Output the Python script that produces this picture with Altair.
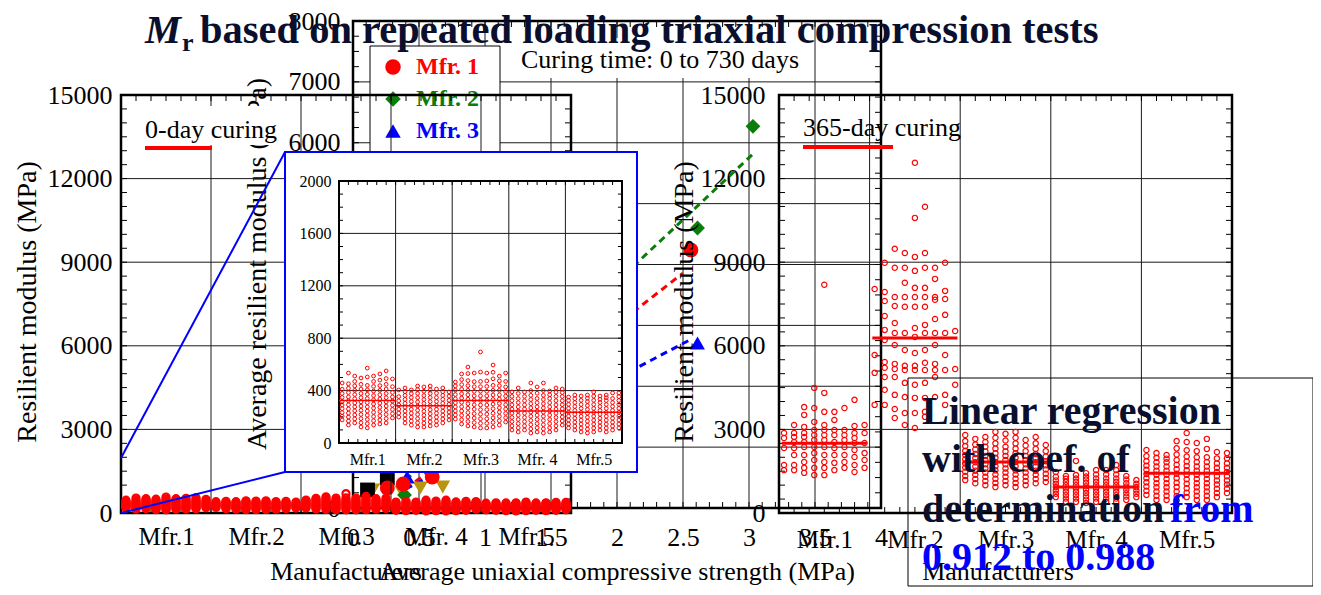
import altair as alt
import pandas as pd

# ---------------- data ----------------
mfr_labels = ["Mfr.1", "Mfr.2", "Mfr.3", "Mfr. 4", "Mfr.5"]
legend_labels = ["Mfr. 1", "Mfr. 2", "Mfr. 3", "Mfr. 4", "Mfr. 5"]
mfr_colors = ["#ff0000", "#0a7d0a", "#0000ff", "#000000", "#b8960c"]
mfr_shapes = ["circle", "diamond", "triangle-up", "square", "triangle-down"]

# 0-day curing resilient modulus (MPa), one list per specimen column
day0_mfr1 = [
    [176, 205, 232, 262, 290, 318, 348, 378, 410, 458],
    [137, 168, 198, 228, 260, 292, 322, 352, 385, 418, 452, 534],
    [153, 184, 214, 246, 276, 306, 338, 370, 402, 436, 470, 511],
    [122, 154, 186, 218, 250, 282, 314, 346, 378, 412, 448, 496],
    [115, 148, 180, 212, 244, 276, 308, 340, 372, 406, 440, 504, 572],
    [137, 170, 202, 234, 266, 298, 330, 362, 396, 432, 470, 511],
    [145, 176, 208, 240, 272, 304, 336, 368, 402, 438, 480, 527],
    [153, 186, 218, 250, 282, 314, 346, 378, 412, 448, 492, 550],
    [191, 224, 256, 288, 320, 352, 386, 430, 489],
]
day0_mfr2 = [
    [198, 228, 258, 290, 322, 354, 405],
    [153, 183, 213, 243, 273, 303, 333, 363, 392, 420],
    [137, 167, 197, 227, 257, 287, 317, 347, 377, 405],
    [122, 154, 186, 218, 250, 282, 314, 346, 378, 408, 435],
    [122, 152, 182, 212, 242, 272, 302, 332, 362, 395, 428],
    [130, 161, 192, 223, 254, 285, 316, 347, 378, 406, 435],
    [137, 167, 197, 227, 257, 287, 317, 347, 380, 412],
    [153, 183, 213, 243, 273, 303, 333, 363, 392, 420],
    [176, 206, 236, 266, 296, 326, 358, 390],
]
day0_mfr3 = [
    [183, 214, 245, 276, 307, 338, 370, 404, 436, 466],
    [145, 178, 211, 244, 277, 310, 343, 376, 410, 446, 484, 527],
    [130, 164, 198, 232, 266, 300, 334, 368, 402, 438, 476, 530, 580],
    [122, 156, 190, 224, 258, 292, 326, 360, 394, 430, 468, 534],
    [115, 150, 185, 220, 255, 290, 325, 360, 395, 430, 470, 542, 695],
    [115, 150, 185, 220, 255, 290, 325, 360, 395, 432, 474, 534],
    [122, 157, 192, 227, 262, 297, 332, 367, 402, 440, 490, 540, 595],
    [137, 170, 203, 236, 269, 302, 335, 368, 402, 438, 474, 511],
    [160, 193, 226, 259, 292, 325, 358, 392, 428, 470, 534],
]
day0_mfr4 = [
    [99, 131, 163, 195, 227, 259, 291, 323, 356, 390],
    [84, 116, 148, 180, 212, 244, 276, 308, 340, 378, 420],
    [99, 131, 163, 195, 227, 259, 291, 323, 356, 390],
    [76, 108, 140, 172, 204, 236, 268, 300, 332, 364, 400, 458],
    [84, 116, 148, 180, 212, 244, 276, 308, 340, 380, 428],
    [76, 108, 140, 172, 204, 236, 268, 300, 332, 364, 400, 458],
    [84, 116, 148, 180, 212, 244, 276, 308, 340, 368, 397],
    [99, 131, 163, 195, 227, 259, 291, 323, 356, 388, 420],
    [137, 168, 199, 230, 261, 292, 323, 355, 385, 412],
]
day0_mfr5 = [
    [115, 145, 175, 205, 235, 265, 295, 325, 351],
    [99, 129, 159, 189, 219, 249, 279, 309, 338, 366],
    [84, 114, 144, 174, 204, 234, 264, 294, 326, 359],
    [76, 106, 136, 166, 196, 226, 256, 286, 316, 342, 366],
    [84, 114, 144, 174, 204, 234, 264, 294, 326, 358, 390],
    [99, 129, 159, 189, 219, 249, 279, 309, 334, 359],
    [84, 114, 144, 174, 204, 234, 264, 294, 324, 346, 366],
    [99, 129, 159, 189, 219, 249, 279, 309, 340, 382],
    [115, 145, 175, 205, 235, 265, 295, 325, 354, 382],
]
day0_mean = [325, 285, 325, 245, 235]

# 365-day curing resilient modulus (MPa)
day365_mfr1 = [
    [1540, 1720, 2330, 2690, 2870],
    [1540, 1720, 2080, 2330, 2550, 2730, 2870, 3160],
    [1440, 1620, 1830, 2080, 2370, 2550, 2730, 2870, 3090, 3520, 3800],
    [1360, 1620, 1900, 2150, 2370, 2620, 2800, 2980, 3270, 3770, 4490],
    [1360, 1620, 1830, 2080, 2370, 2620, 2800, 2980, 3160, 3630, 4310, 8190],
    [1540, 1800, 2080, 2330, 2550, 2800, 2980, 3340, 3630],
    [1620, 1830, 2080, 2370, 2620, 2800, 2980, 3770],
    [1470, 1720, 2010, 2260, 2510, 2690, 2870, 3120, 4060],
    [1620, 1900, 2150, 2510, 2870, 3160],
]
day365_mfr2 = [
    [3880, 5030, 5670, 8040],
    [3880, 4420, 4880, 5210, 5420, 6210, 6570, 7070, 7610, 7930, 8980],
    [3410, 3730, 4240, 4880, 5170, 5350, 6030, 6460, 6820, 7430, 7750, 8800, 9480],
    [3160, 3590, 4160, 4670, 5130, 5280, 5850, 6460, 7400, 7750, 8260, 8800, 9330],
    [3050, 3590, 4130, 4600, 5130, 5280, 5740, 6320, 6640, 7400, 7750, 8080, 8690, 9190, 10590, 12570],
    [3450, 3630, 4130, 4670, 5130, 5390, 5850, 6460, 6750, 7400, 7750, 8080, 8800, 9330, 10990],
    [4160, 4880, 5130, 5350, 6030, 6460, 6960, 7650, 7750, 8400, 8800],
    [3880, 4240, 5130, 5670, 6460, 7110, 7680, 7970, 8980],
    [4600, 5170, 6530],
]
day365_mfr3 = [
    [1180, 1330, 1480, 1630, 1780, 1930, 2080, 2230, 2400, 2580, 2800],
    [1070, 1220, 1370, 1520, 1670, 1820, 1970, 2120, 2280, 2460, 2660],
    [1000, 1150, 1300, 1450, 1600, 1750, 1900, 2050, 2210, 2380, 2550, 2730],
    [930, 1080, 1230, 1380, 1530, 1680, 1830, 1980, 2140, 2310, 2500, 2700, 2910],
    [1000, 1150, 1300, 1450, 1600, 1750, 1900, 2050, 2210, 2380, 2600, 2840],
    [930, 1080, 1230, 1380, 1530, 1680, 1830, 1980, 2140, 2310, 2500, 2700, 2910],
    [1000, 1150, 1300, 1450, 1600, 1750, 1900, 2050, 2220, 2420, 2620],
    [1070, 1220, 1370, 1520, 1670, 1820, 1970, 2120, 2300, 2500, 2730],
    [1110, 1260, 1410, 1560, 1710, 1860, 2030, 2220, 2440],
]
day365_mfr4 = [
    [570, 690, 810, 930, 1050, 1170, 1300, 1470],
    [400, 520, 640, 760, 880, 1000, 1120, 1230, 1330],
    [400, 520, 640, 760, 880, 1000, 1120, 1240, 1360, 1870],
    [360, 480, 600, 720, 840, 960, 1080, 1200, 1310, 1430],
    [400, 520, 640, 760, 880, 1000, 1120, 1240, 1380, 1540],
    [400, 520, 640, 760, 880, 1000, 1120, 1240, 1380, 1540],
    [400, 520, 640, 760, 880, 1000, 1120, 1240, 1380, 1540, 1720],
    [470, 590, 710, 830, 950, 1070, 1200, 1330],
    [570, 690, 810, 930, 1050, 1180],
]
day365_mfr5 = [
    [650, 800, 950, 1100, 1250, 1400, 1550, 1700, 1860, 2040, 2260],
    [470, 620, 770, 920, 1070, 1220, 1370, 1520, 1670, 1820, 1980, 2150],
    [470, 620, 770, 920, 1070, 1220, 1370, 1520, 1670, 1820, 1950, 2080],
    [290, 450, 610, 770, 930, 1090, 1250, 1410, 1570, 1730, 1900, 2100, 2320, 2580],
    [570, 730, 890, 1050, 1210, 1370, 1530, 1690, 1850, 2030, 2250, 2550, 2870],
    [470, 620, 770, 920, 1070, 1220, 1370, 1520, 1670, 1830, 2000, 2220, 2510],
    [470, 620, 770, 920, 1070, 1220, 1370, 1520, 1670, 1830, 2000, 2300, 2660],
    [570, 720, 870, 1020, 1170, 1320, 1470, 1620, 1780, 1960, 2190],
    [720, 870, 1020, 1170, 1320, 1470, 1620, 1780, 1960, 2150],
]
day365_mean = [2500, 6280, 1830, 930, 1430]

# Average UCS (MPa) vs average resilient modulus (MPa), curing 0-730 days
ucs_mfr1 = [0.26, 0.38, 0.60, 2.56]
avg_mr_mfr1 = [328, 394, 509, 4240]
ucs_mfr2 = [0.39, 2.61, 3.03]
avg_mr_mfr2 = [213, 4600, 6270]
ucs_mfr3 = [0.41, 2.61]
avg_mr_mfr3 = [509, 2710]
ucs_mfr4 = [0.11, 0.26]
avg_mr_mfr4 = [296, 493]
ucs_mfr5 = [0.15, 0.37, 0.51, 0.68]
avg_mr_mfr5 = [296, 263, 328, 345]

# linear regressions (Mfr.1, Mfr.2, Mfr.3)
reg_slope = [1690, 2037, 1138]
reg_intercept = [-366, -356, -143]
reg_x_start = [0.4, 0.4, 0.4]
reg_x_end = [2.5, 3.03, 2.55]

# tick labels
yticks_full = [0, 3000, 6000, 9000, 12000, 15000]
yticks_avg = [0, 1000, 2000, 3000, 4000, 5000, 6000, 7000, 8000]
xticks_ucs = [0, 0.5, 1, 1.5, 2, 2.5, 3, 3.5, 4]
yticks_inset = [0, 400, 800, 1200, 1600, 2000]
cat_ticks = [0.5, 1.5, 2.5, 3.5, 4.5]

# ---------------- layout helpers ----------------
OFF = 8
W, H = 1321 - 2 * OFF, 595 - 2 * OFF
FONT = "Liberation Serif"
NAVY = "#0b0f2e"
one = pd.DataFrame({"k": [0]})


def pv(v):
    return v - OFF


PA = {"xd": [0, 5], "xr": [121, 571], "yd": [0, 15000], "yr": [513, 95]}
PB = {"xd": [0, 4], "xr": [353, 881], "yd": [0, 8000], "yr": [508, 21]}
PI = {"xd": [0, 5], "xr": [339, 622], "yd": [0, 2000], "yr": [443, 181]}
PC = {"xd": [0, 5], "xr": [779, 1232], "yd": [0, 15000], "yr": [513, 95]}


def sx(p):
    return alt.Scale(domain=p["xd"], range=[pv(p["xr"][0]), pv(p["xr"][1])], nice=False, zero=False)


def sy(p):
    return alt.Scale(domain=p["yd"], range=[pv(p["yr"][0]), pv(p["yr"][1])], nice=False, zero=False)


def X(p, f, axis=None):
    return alt.X(f"{f}:Q", scale=sx(p), axis=axis)


def Y(p, f, axis=None):
    return alt.Y(f"{f}:Q", scale=sy(p), axis=axis)


cat_expr = "[" + ",".join(f"'{s}'" for s in mfr_labels) + "][round(datum.value - 0.5)]"


def yaxis(p, values, size, pad, z=0):
    return alt.Axis(values=values, orient="left", offset=-pv(p["xr"][0]), format="d",
                    grid=False, ticks=False, domain=False, labelFont=FONT,
                    labelFontSize=size, labelColor="black", labelPadding=pad,
                    title=None, labelFlush=False, labelOverlap=False, zindex=z)


def xaxis(p, values, size, pad, expr=None, fmt="~g", z=0):
    kw = dict(values=values, orient="bottom", offset=pv(p["yr"][0]) - H,
              grid=False, ticks=False, domain=False, labelFont=FONT,
              labelFontSize=size, labelColor="black", labelPadding=pad,
              title=None, labelFlush=False, labelOverlap=False, zindex=z)
    if expr:
        kw["labelExpr"] = expr
    else:
        kw["format"] = fmt
    return alt.Axis(**kw)


def grid(p, xv, yv, color="#1a1a1a", w=1):
    dx = pd.DataFrame({"v": xv, "a": p["yd"][0], "b": p["yd"][1]})
    dy = pd.DataFrame({"v": yv, "a": p["xd"][0], "b": p["xd"][1]})
    gx = alt.Chart(dx).mark_rule(color=color, strokeWidth=w).encode(
        x=X(p, "v"), y=Y(p, "a"), y2="b:Q")
    gy = alt.Chart(dy).mark_rule(color=color, strokeWidth=w).encode(
        y=Y(p, "v"), x=X(p, "a"), x2="b:Q")
    return [gx, gy]


def frame(p, xa, ya, sw):
    d = pd.DataFrame({"x0": [p["xd"][0]], "x1": [p["xd"][1]], "y0": [p["yd"][0]], "y1": [p["yd"][1]]})
    return alt.Chart(d).mark_rect(fillOpacity=0, stroke="black", strokeWidth=sw).encode(
        x=X(p, "x0", xa), x2="x1:Q", y=Y(p, "y0", ya), y2="y1:Q")


def ticks(p, xminor, yminor, ln=6):
    out = []
    for e, off in [(p["xd"][0], ln), (p["xd"][1], -ln)]:
        d = pd.DataFrame({"v": yminor, "e": e})
        out.append(alt.Chart(d).mark_rule(color="black", strokeWidth=1, x2Offset=off).encode(
            x=X(p, "e"), x2="e:Q", y=Y(p, "v"), y2="v:Q"))
    for e, off in [(p["yd"][0], -ln), (p["yd"][1], ln)]:
        d = pd.DataFrame({"v": xminor, "e": e})
        out.append(alt.Chart(d).mark_rule(color="black", strokeWidth=1, y2Offset=off).encode(
            x=X(p, "v"), x2="v:Q", y=Y(p, "e"), y2="e:Q"))
    return out


def cloud_df(groups):
    rows = []
    for i, cols in enumerate(groups):
        n = len(cols)
        for j, col in enumerate(cols):
            for val in col:
                rows.append({"pos": i + (j + 0.5) / n, "mr": float(val)})
    return pd.DataFrame(rows)


def mean_df(means, inset=0.0):
    return pd.DataFrame({"a": [i + inset for i in range(5)], "b": [i + 1 - inset for i in range(5)],
                         "m": means})


def text(t, x, y, size, color="black", weight="normal", align="center", baseline="middle",
         angle=0, style="normal"):
    kw = dict(text=t, font=FONT, fontSize=size, color=color, fontWeight=weight,
              align=align, baseline=baseline, fontStyle=style)
    if angle:
        kw["angle"] = angle
    return alt.Chart(one).mark_text(**kw).encode(x=alt.value(pv(x)), y=alt.value(pv(y)))


def box(x0, x1, y0, y1, fill="white", stroke="black", sw=1, fop=1):
    return alt.Chart(one).mark_rect(fill=fill, fillOpacity=fop, stroke=stroke, strokeWidth=sw).encode(
        x=alt.value(pv(x0)), x2=alt.value(pv(x1)), y=alt.value(pv(y0)), y2=alt.value(pv(y1)))


def seg(x0, y0, x1, y1, color, w):
    return alt.Chart(one).mark_rule(color=color, strokeWidth=w).encode(
        x=alt.value(pv(x0)), y=alt.value(pv(y0)), x2=alt.value(pv(x1)), y2=alt.value(pv(y1)))


layers = []

# ================= Panel B: average UCS vs average Mr =================
layers += grid(PB, [0.5, 1, 1.5, 2, 2.5, 3, 3.5], [1000, 2000, 3000, 4000, 5000, 6000, 7000])
layers.append(frame(PB, xaxis(PB, xticks_ucs, 26, 16), yaxis(PB, yticks_avg, 26, 13), 2.5))
layers += ticks(PB, [k / 10 for k in range(1, 40)], [k * 250 for k in range(1, 32)])

reg_rows = []
for k in range(3):
    for xv in (reg_x_start[k], reg_x_end[k]):
        reg_rows.append({"s": mfr_labels[k], "c": mfr_colors[k], "u": xv,
                         "m": reg_intercept[k] + reg_slope[k] * xv})
reg_df = pd.DataFrame(reg_rows)
layers.append(alt.Chart(reg_df).mark_line(strokeDash=[7, 5], strokeWidth=3).encode(
    x=X(PB, "u"), y=Y(PB, "m"), detail="s:N", color=alt.Color("c:N", scale=None)))

b_rows = []
for k, (us, ms) in enumerate([(ucs_mfr1, avg_mr_mfr1), (ucs_mfr2, avg_mr_mfr2), (ucs_mfr3, avg_mr_mfr3),
                              (ucs_mfr4, avg_mr_mfr4), (ucs_mfr5, avg_mr_mfr5)]):
    for u, m in zip(us, ms):
        b_rows.append({"u": u, "m": m, "c": mfr_colors[k], "sh": mfr_shapes[k], "order": 4 - k})
b_df = pd.DataFrame(b_rows)
layers.append(alt.Chart(b_df).mark_point(filled=True, size=220, opacity=1).encode(
    x=X(PB, "u"), y=Y(PB, "m"), color=alt.Color("c:N", scale=None),
    shape=alt.Shape("sh:N", scale=None), order="order:Q"))

# legend of panel B
layers.append(box(370, 500, 46, 215))
leg_df = pd.DataFrame({"label": legend_labels, "c": mfr_colors, "sh": mfr_shapes,
                       "ly": [pv(67 + 32 * i) for i in range(5)]})
layers.append(alt.Chart(leg_df).mark_point(filled=True, size=240, opacity=1).encode(
    x=alt.value(pv(393)), y=alt.Y("ly:Q", scale=None), color=alt.Color("c:N", scale=None),
    shape=alt.Shape("sh:N", scale=None)))
layers.append(alt.Chart(leg_df).mark_text(font=FONT, fontSize=24, fontWeight="bold", align="left",
                                           baseline="middle").encode(
    x=alt.value(pv(416)), y=alt.Y("ly:Q", scale=None), text="label:N", color=alt.Color("c:N", scale=None)))

layers.append(box(510, 810, 38, 78, stroke="white", sw=0))
layers.append(text("Curing time: 0 to 730 days", 660, 60, 26))
layers.append(text("Average resilient modulus (MPa)", 258, 264, 28, angle=270))
layers.append(text("Average uniaxial compressive strength (MPa)", 617, 572, 26))

# ================= Panel A: 0-day curing =================
layers += grid(PA, [1, 2, 3, 4], [3000, 6000, 9000, 12000])
layers.append(frame(PA, xaxis(PA, cat_ticks, 25, 11, cat_expr), yaxis(PA, yticks_full, 26, 9), 2.5))
layers += ticks(PA, [k / 6 for k in range(1, 30)], [k * 500 for k in range(1, 30)])
day0_df = cloud_df([day0_mfr1, day0_mfr2, day0_mfr3, day0_mfr4, day0_mfr5])
layers.append(alt.Chart(day0_df).mark_point(shape="circle", filled=False, color="#ff0000", size=50,
                                             strokeWidth=2.2, opacity=1).encode(
    x=X(PA, "pos"), y=Y(PA, "mr")))
layers.append(text("Resilient modulus (MPa)", 28, 302, 28, angle=270))
layers.append(text("Manufacturers", 346, 572, 26))
layers.append(box(138, 284, 106, 145, stroke="white", sw=0))
layers.append(text("0-day curing", 145, 130, 26, align="left"))
layers.append(seg(145, 148, 212, 148, "#ff0000", 4))

# ================= Inset (zoom of 0-day) =================
layers.append(seg(121, 458, 285, 152, "#0000ff", 2))
layers.append(seg(121, 513, 285, 472, "#0000ff", 2))
layers.append(box(285, 637, 152, 472, fill="white", stroke="#0000ff", sw=2))
layers += grid(PI, [1, 2, 3, 4], [400, 800, 1200, 1600])
layers.append(frame(PI, xaxis(PI, cat_ticks, 16, 8, cat_expr, z=1), yaxis(PI, yticks_inset, 16, 8, z=1), 2))
layers += ticks(PI, [k / 6 for k in range(1, 30)], [k * 100 for k in range(1, 20)], ln=4)
layers.append(alt.Chart(day0_df).mark_point(shape="circle", filled=False, color="#ff0000", size=14,
                                             strokeWidth=1, opacity=1).encode(
    x=X(PI, "pos"), y=Y(PI, "mr")))
layers.append(alt.Chart(mean_df(day0_mean)).mark_rule(color="#ff0000", strokeWidth=1.5).encode(
    x=X(PI, "a"), x2="b:Q", y=Y(PI, "m"), y2="m:Q"))

# ================= Panel C: 365-day curing =================
layers += grid(PC, [1, 2, 3, 4], [3000, 6000, 9000, 12000])
layers.append(frame(PC, xaxis(PC, cat_ticks, 25, 14, cat_expr), yaxis(PC, yticks_full, 26, 14), 2.5))
layers += ticks(PC, [k / 6 for k in range(1, 30)], [k * 500 for k in range(1, 30)])
day365_df = cloud_df([day365_mfr1, day365_mfr2, day365_mfr3, day365_mfr4, day365_mfr5])
layers.append(alt.Chart(day365_df).mark_point(shape="circle", filled=False, color="#ff0000", size=28,
                                               strokeWidth=1.2, opacity=1).encode(
    x=X(PC, "pos"), y=Y(PC, "mr")))
layers.append(alt.Chart(mean_df(day365_mean, 0.03)).mark_rule(color="#ff0000", strokeWidth=3).encode(
    x=X(PC, "a"), x2="b:Q", y=Y(PC, "m"), y2="m:Q"))
layers.append(text("Resilient modulus (MPa)", 685, 302, 28, angle=270))
layers.append(text("Manufacturers", 998, 572, 26))
layers.append(text("365-day curing", 803, 128, 26, align="left"))
layers.append(seg(803, 147, 893, 147, "#ff0000", 4))

# ================= regression note =================
layers.append(box(908, 1313, 378, 586, fop=0, sw=1))
layers.append(text("Linear regression", 922, 412, 40, color=NAVY, weight="bold", align="left"))
layers.append(text("with coef. of", 922, 460, 40, color=NAVY, weight="bold", align="left"))
layers.append(text("determination", 922, 510, 40, color=NAVY, weight="bold", align="left"))
layers.append(text("from", 1170, 510, 40, color="#0000ff", weight="bold", align="left"))
layers.append(text("0.912 to 0.988", 922, 558, 40, color="#0000ff", weight="bold", align="left"))

# ================= title =================
layers.append(text("M", 145, 43, 40.5, color=NAVY, weight="bold", align="left", baseline="alphabetic",
                   style="italic"))
layers.append(text("r", 182, 51, 26, color=NAVY, weight="bold", align="left", baseline="alphabetic"))
layers.append(text("based on repeated loading triaxial compression tests", 200, 43, 40.5, color=NAVY,
                   weight="bold", align="left", baseline="alphabetic"))

chart = (
    alt.layer(*layers)
    .resolve_scale(x="independent", y="independent")
    .resolve_axis(x="independent", y="independent")
    .properties(width=W, height=H, autosize=alt.AutoSizeParams(type="none"), padding=0,
                background="white")
    .configure_view(stroke=None)
)

chart.save("out.html", embed_options={"renderer": "svg", "actions": False})
